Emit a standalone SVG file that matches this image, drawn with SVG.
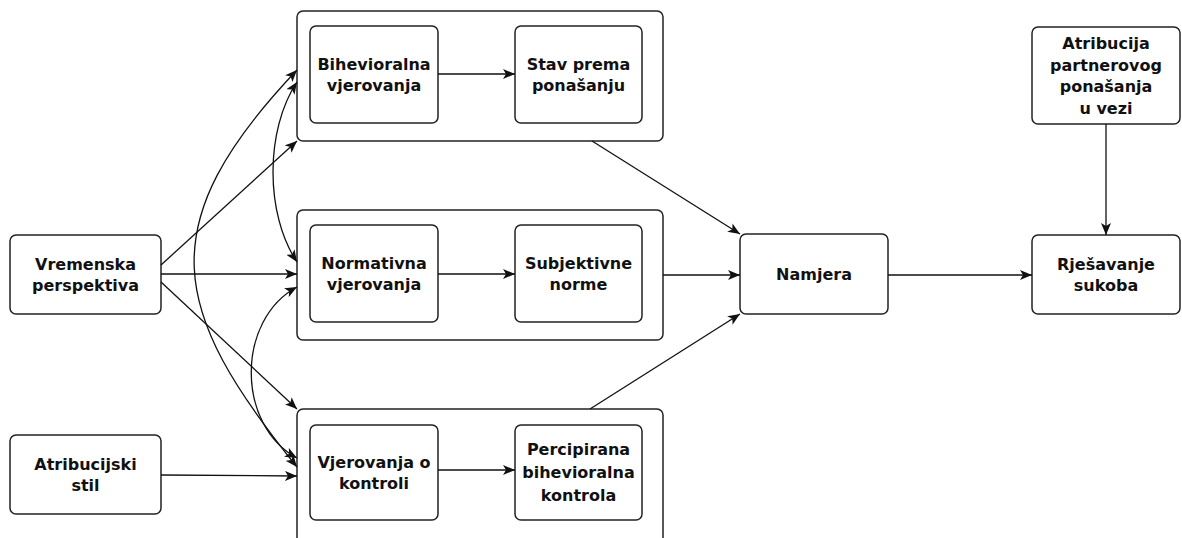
<svg xmlns="http://www.w3.org/2000/svg" width="1182" height="538" viewBox="0 0 1182 538">
<style>
.box{fill:#fff;stroke:#222;stroke-width:1.5}
.t{font-family:"DejaVu Sans",Verdana,sans-serif;font-weight:bold;font-size:16px;fill:#111;text-anchor:middle}
.c{fill:none;stroke:#111;stroke-width:1.3}
</style>
<defs>
<marker id="ah" viewBox="0 0 12 10" refX="12" refY="5" markerWidth="12" markerHeight="10" markerUnits="userSpaceOnUse" orient="auto-start-reverse">
<path d="M0,0 L12,5 L0,10 L3,5 Z" fill="#111"/>
</marker>
</defs>
<rect width="1182" height="538" fill="#fff"/>
<g id="group-behavioral">
<rect class="box" x="297" y="11" width="366" height="130" rx="6"/>
</g>
<g id="group-normative">
<rect class="box" x="297" y="210" width="366" height="130" rx="6"/>
</g>
<g id="group-control">
<rect class="box" x="297" y="409" width="366" height="135" rx="6"/>
</g>
<g id="bihevioralna">
<rect class="box" x="310" y="26" width="128" height="97" rx="6"/>
<text class="t" x="374" y="70">Bihevioralna</text>
<text class="t" x="374" y="91">vjerovanja</text>
</g>
<g id="stav">
<rect class="box" x="515" y="26" width="127" height="97" rx="6"/>
<text class="t" x="578.5" y="70">Stav prema</text>
<text class="t" x="578.5" y="91">ponašanju</text>
</g>
<g id="normativna">
<rect class="box" x="310" y="225" width="128" height="97" rx="6"/>
<text class="t" x="374" y="269">Normativna</text>
<text class="t" x="374" y="290">vjerovanja</text>
</g>
<g id="subjektivne">
<rect class="box" x="515" y="225" width="127" height="97" rx="6"/>
<text class="t" x="578.5" y="269">Subjektivne</text>
<text class="t" x="578.5" y="290">norme</text>
</g>
<g id="vjerovanja-kontrola">
<rect class="box" x="310" y="425" width="128" height="95" rx="6"/>
<text class="t" x="374" y="468">Vjerovanja o</text>
<text class="t" x="374" y="489">kontroli</text>
</g>
<g id="percipirana">
<rect class="box" x="515" y="425" width="127" height="95" rx="6"/>
<text class="t" x="578.5" y="455">Percipirana</text>
<text class="t" x="578.5" y="478">bihevioralna</text>
<text class="t" x="578.5" y="501">kontrola</text>
</g>
<g id="vremenska">
<rect class="box" x="10" y="235" width="151" height="79" rx="6"/>
<text class="t" x="85.5" y="270">Vremenska</text>
<text class="t" x="85.5" y="291">perspektiva</text>
</g>
<g id="atribucijski">
<rect class="box" x="10" y="435" width="151" height="79" rx="6"/>
<text class="t" x="85.5" y="470">Atribucijski</text>
<text class="t" x="85.5" y="491">stil</text>
</g>
<g id="namjera">
<rect class="box" x="740" y="234" width="148" height="80" rx="6"/>
<text class="t" x="814" y="280">Namjera</text>
</g>
<g id="rjesavanje">
<rect class="box" x="1032" y="235" width="148" height="79" rx="6"/>
<text class="t" x="1106" y="270">Rješavanje</text>
<text class="t" x="1106" y="291">sukoba</text>
</g>
<g id="atribucija-partnera">
<rect class="box" x="1032" y="27" width="148" height="97" rx="6"/>
<text class="t" x="1106" y="49">Atribucija</text>
<text class="t" x="1106" y="70.5">partnerovog</text>
<text class="t" x="1106" y="92">ponašanja</text>
<text class="t" x="1106" y="113.5">u vezi</text>
</g>
<g id="connectors">
<line class="c" x1="438" y1="74" x2="515" y2="74" marker-end="url(#ah)"/>
<line class="c" x1="438" y1="274" x2="515" y2="274" marker-end="url(#ah)"/>
<line class="c" x1="438" y1="470" x2="515" y2="470" marker-end="url(#ah)"/>
<line class="c" x1="592" y1="141" x2="740" y2="234" marker-end="url(#ah)"/>
<line class="c" x1="663" y1="275" x2="740" y2="275" marker-end="url(#ah)"/>
<line class="c" x1="590" y1="409" x2="740" y2="314" marker-end="url(#ah)"/>
<line class="c" x1="888" y1="275" x2="1032" y2="275" marker-end="url(#ah)"/>
<line class="c" x1="1106" y1="124" x2="1106" y2="235" marker-end="url(#ah)"/>
<line class="c" x1="161" y1="265" x2="297" y2="141" marker-end="url(#ah)"/>
<line class="c" x1="161" y1="274" x2="297" y2="274" marker-end="url(#ah)"/>
<line class="c" x1="161" y1="282" x2="297" y2="409" marker-end="url(#ah)"/>
<line class="c" x1="161" y1="475" x2="297" y2="476" marker-end="url(#ah)"/>
<path class="c" d="M297,70 C150,225 170,310 297,467" marker-start="url(#ah)" marker-end="url(#ah)"/>
<path class="c" d="M297,82 C265,130 265,214 297,262" marker-start="url(#ah)" marker-end="url(#ah)"/>
<path class="c" d="M297,287 C236,320 236,425 297,458" marker-start="url(#ah)" marker-end="url(#ah)"/>
</g>
</svg>
